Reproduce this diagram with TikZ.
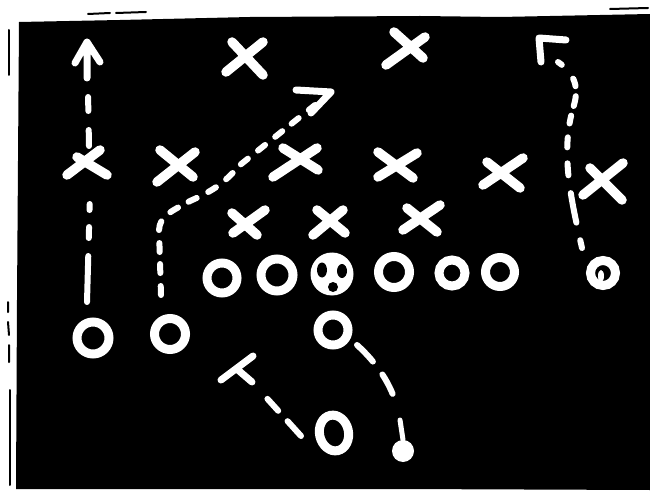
\documentclass[tikz,border=0pt]{standalone}
\usetikzlibrary{shapes.geometric}
\begin{document}
\begin{tikzpicture}[x=1pt,y=-1pt,
  chalk/.style={white,line width=9.5pt,line cap=round,line join=round},
  oplay/.style={circle,draw=white,line width=9pt,inner sep=0pt,minimum size=#1},
  edge mark/.style={black,line width=2pt,line cap=round}
]
\useasboundingbox (0,0) rectangle (650,494);
\fill[white] (0,0) rectangle (650,494);
% board
\fill[black] (19,22) -- (120,20) -- (250,17) -- (420,16) -- (500,17) -- (650,14)
  -- (650,490) -- (400,489) -- (16,489) -- (17,300) -- cycle;
% sketchy marks in the margin
\draw[edge mark] (88,14) -- (110,13) (116,13) -- (146,12);
\draw[edge mark] (610,9) -- (648,8);
\draw[edge mark] (9,30) -- (9,75);
\draw[edge mark] (8,302) -- (8,312) (8,322) -- (9,335) (9,345) -- (9,362);
\draw[edge mark] (10,390) -- (10,485);

% defence: X marks
\draw[chalk] (226,72) -- (263,42) (232,42) -- (263,75);
\draw[chalk] (386,65) -- (425,37) (394,32) -- (423,58);
\draw[chalk] (67,175) -- (100,150) (77,157) -- (107,175);
\draw[chalk] (157,182) -- (195,152) (160,150) -- (193,177);
\draw[chalk] (273,177) -- (317,148) (283,148) -- (318,170);
\draw[chalk] (378,177) -- (417,153) (378,152) -- (413,178);
\draw[chalk] (483,185) -- (523,158) (487,162) -- (520,188);
\draw[chalk] (583,195) -- (623,163) (590,168) -- (622,200);
\draw[chalk] (233,233) -- (265,210) (232,213) -- (257,235);
\draw[chalk] (313,235) -- (343,210) (317,210) -- (345,233);
\draw[chalk] (403,230) -- (440,205) (407,208) -- (437,232);

% offence: O marks
\node[oplay=30pt] (ol1) at (222,278) {};
\node[oplay=32pt] (ol2) at (277,275) {};
\node[circle,fill=white,inner sep=0pt,minimum size=43pt] (oc) at (332,274) {};
\fill[black] (322,270) ellipse [x radius=5pt,y radius=7.5pt];
\fill[black] (342,271) ellipse [x radius=5pt,y radius=7pt];
\fill[black] (333,287) circle [radius=5pt];
\node[oplay=31pt] (ol4) at (394,272) {};
\node[oplay=26pt] (ol5) at (452,273) {};
\node[oplay=29pt] (ol6) at (500,272) {};
\node[oplay=25pt] (wr) at (603,273) {};
\fill[white] (601,276) ellipse [x radius=3pt,y radius=6pt];
\node[oplay=32pt] (b1) at (93,338) {};
\node[oplay=31pt] (b2) at (170,334) {};
\node[oplay=30pt] (b3) at (333,330) {};
\node[ellipse,draw=white,line width=9pt,inner sep=0pt,minimum width=29pt,minimum height=36pt,rotate=12] (b4) at (334,433) {};
\node[circle,fill=white,inner sep=0pt,minimum size=22pt] (dot) at (403,451) {};

% route 1: straight up the left
\coordinate (r1a) at (87,302);
\coordinate (r1b) at (90,193);
\coordinate (r1c) at (89,146);
\coordinate (r1d) at (88,92);
\coordinate (t1) at (87,42);
\draw[white,line width=6pt,line cap=round,dash pattern=on 46pt off 18pt on 11pt off 17pt on 6pt off 30pt] (r1a) -- (r1b);
\draw[white,line width=6pt,line cap=round,dash pattern=on 16pt off 19pt on 14pt off 30pt] (r1c) -- (r1d);
\draw[chalk,line width=7pt] (87,78) -- (t1) (75,63) -- (t1) -- (100,62);

% route 2: up and diagonal
\coordinate (r2a) at (161,295);
\coordinate (t2) at (331,92);
\draw[white,line width=6pt,line cap=round,dash pattern=on 9pt off 13pt on 9pt off 12pt on 9pt off 13pt]
  (r2a) -- (159,230) .. controls (160,216) and (170,212) .. (190,201)
  .. controls (215,190) and (225,182) .. (240,165) -- (315,105);
\draw[chalk,line width=7pt] (296,90) -- (t2) -- (311,113);

% route 3: right side curling up-left
\coordinate (r3a) at (582,248);
\coordinate (t3) at (539,38);
\draw[white,line width=6pt,line cap=round,dash pattern=on 8pt off 18pt on 30pt off 18pt on 12pt off 16pt on 10pt off 14pt on 8pt off 10pt on 10pt off 10pt]
  (r3a) .. controls (570,195) and (560,150) .. (574,105) .. controls (580,84) and (572,72) .. (558,62);
\draw[chalk,line width=7pt] (566,40) -- (t3) -- (541,62);

% route 4: block to the left
\coordinate (r4a) at (301,436);
\coordinate (t4) at (238,370);
\draw[white,line width=6pt,line cap=round,dash pattern=on 20pt off 14pt on 16pt off 30pt] (r4a) -- (254,384);
\draw[chalk,line width=7pt] (252,382) -- (t4);
\draw[chalk,line width=7pt] (221,380) -- (253,356);

% route 5: swing to the right
\coordinate (r5a) at (357,345);
\draw[white,line width=6pt,line cap=round,dash pattern=on 23pt off 16pt on 22pt off 30pt]
  (r5a) .. controls (376,362) and (392,385) .. (397,408);
\draw[chalk,line width=5pt] (400,420) .. controls (401,430) .. (dot.north);
\end{tikzpicture}
\end{document}
